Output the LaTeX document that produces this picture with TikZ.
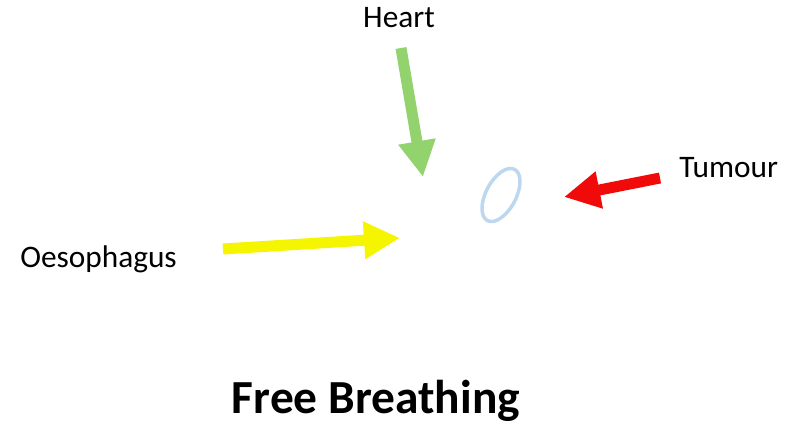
\documentclass[tikz,border=0pt]{standalone}
\usepackage{fontspec}
\setmainfont{Carlito}
\usepackage{xcolor}
\usetikzlibrary{arrows.meta}
\definecolor{figGreen}{HTML}{92D36E}
\definecolor{figRed}{HTML}{F00A0A}
\definecolor{figYellow}{HTML}{F5F500}
\definecolor{figBlue}{HTML}{BDD7EE}

\begin{document}
\begin{tikzpicture}[
  x=0.75pt, y=-0.75pt,
  label/.style={
    font=\fontsize{23.5}{28}\selectfont,
    inner sep=0pt
  },
  title/.style={
    font=\fontsize{35.6}{42}\selectfont\bfseries,
    inner sep=0pt, anchor=base
  },
  bigarr/.style={
    line width=8.25pt, line cap=butt,
    -{Triangle[length=27pt, width=26.5pt]}
  }
]
\useasboundingbox (0,0) rectangle (797,424);

% Labels
\node[label, anchor=base] (heart) at (399,28) {Heart};
\node[label, anchor=base west] (tumour) at (679,178) {Tumour};
\node[label, anchor=base west] (oeso) at (20,268) {Oesophagus};
\node[title] (breath) at (376,413) {Free Breathing};

% Arrow ends
\coordinate (heartTail) at (401,48);
\coordinate (heartTip) at (423,177);
\coordinate (tumourTail) at (660,178);
\coordinate (tumourTip) at (564,197);
\coordinate (oesoTail) at (223,249);
\coordinate (oesoTip) at (400,238);

% Tumour outline
\draw[figBlue, line width=2.6pt, rotate around={-28:(501,195)}]
  (501,195) ellipse [x radius=15, y radius=29];

% Arrows
\draw[bigarr, figGreen] (heartTail) -- (heartTip);
\draw[bigarr, figRed] (tumourTail) -- (tumourTip);
\draw[bigarr, figYellow] (oesoTail) -- (oesoTip);

\end{tikzpicture}
\end{document}
